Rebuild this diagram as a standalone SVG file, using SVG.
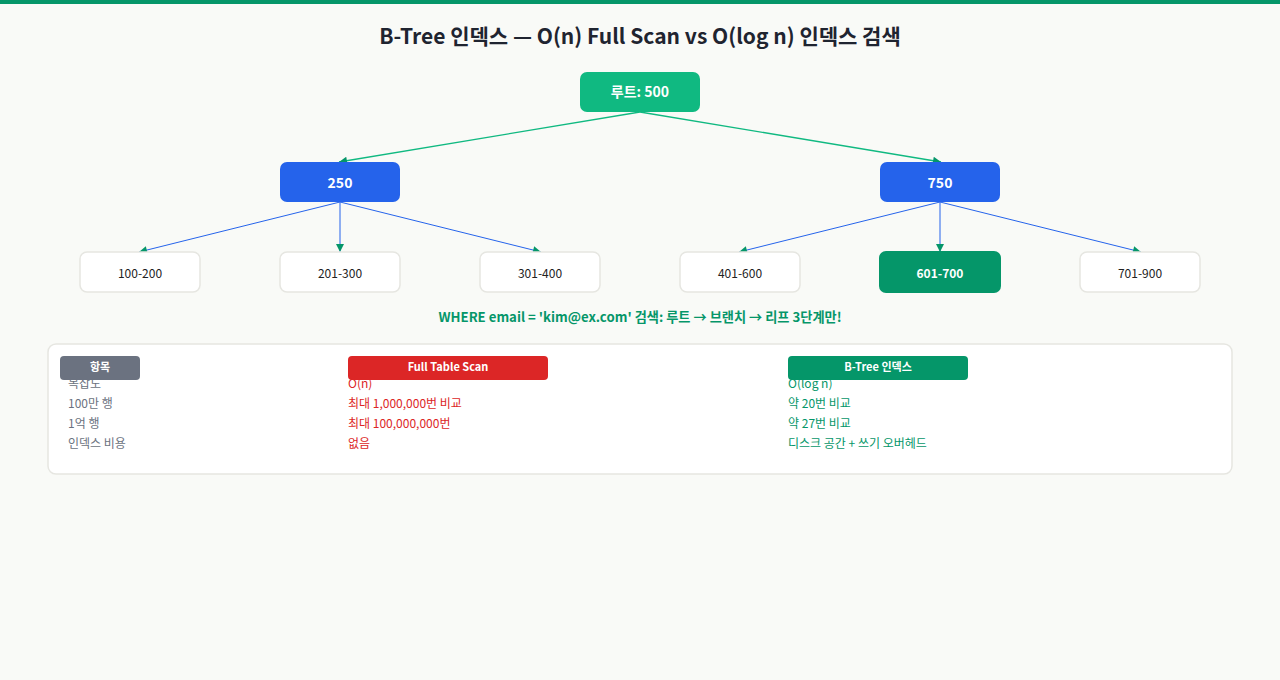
<svg xmlns="http://www.w3.org/2000/svg" width="1280" height="680" viewBox="0 0 1280 680">
<defs>
<style>
text{font-family:"Noto Sans CJK KR","Noto Sans",sans-serif}
.title{font-size:21px;font-weight:700;fill:#1f2430}
.nl{font-size:14px;font-weight:700;fill:#fff}
.leaf{fill:#fff;stroke:#e6e6e1;stroke-width:1.5}
.lt{font-size:12px;fill:#222}
.e1{stroke:#10b981;stroke-width:1.3;fill:none}
.e2{stroke:#2563eb;stroke-width:1;fill:none}
.hd{font-size:11px;font-weight:700;fill:#fff}
.c1{font-size:12px;fill:#6b7280}
.c2{font-size:12px;fill:#dc2626}
.c3{font-size:12px;fill:#059669}
</style>
<marker id="ah" viewBox="0 0 10 10" refX="10" refY="5" markerWidth="12" markerHeight="8" markerUnits="userSpaceOnUse" orient="auto">
<path d="M0,0 L10,5 L0,10 z" fill="#059669"/>
</marker>
</defs>
<rect width="1280" height="680" fill="#f9faf7"/>
<rect width="1280" height="4" fill="#059669"/>
<text class="title" x="640" y="44" text-anchor="middle">B-Tree 인덱스 — O(n) Full Scan vs O(log n) 인덱스 검색</text>
<g id="connectors">
<line class="e1" x1="640" y1="112" x2="339" y2="162" marker-end="url(#ah)"/>
<line class="e1" x1="640" y1="112" x2="941" y2="162" marker-end="url(#ah)"/>
<line class="e2" x1="340" y1="202" x2="139" y2="252" marker-end="url(#ah)"/>
<line class="e2" x1="340" y1="202" x2="340" y2="252" marker-end="url(#ah)"/>
<line class="e2" x1="340" y1="202" x2="541" y2="252" marker-end="url(#ah)"/>
<line class="e2" x1="940" y1="202" x2="739" y2="252" marker-end="url(#ah)"/>
<line class="e2" x1="940" y1="202" x2="940" y2="252" marker-end="url(#ah)"/>
<line class="e2" x1="940" y1="202" x2="1141" y2="252" marker-end="url(#ah)"/>
</g>
<g id="root"><rect x="580" y="72" width="120" height="40" rx="7" fill="#10b981"/><text class="nl" x="640" y="97" text-anchor="middle">루트: 500</text></g>
<g id="b250"><rect x="280" y="162" width="120" height="40" rx="7" fill="#2563eb"/><text class="nl" x="340" y="188" text-anchor="middle">250</text></g>
<g id="b750"><rect x="880" y="162" width="120" height="40" rx="7" fill="#2563eb"/><text class="nl" x="940" y="188" text-anchor="middle">750</text></g>
<g id="l1"><rect class="leaf" x="80" y="252" width="120" height="40" rx="7"/><text class="lt" x="140" y="278" text-anchor="middle">100-200</text></g>
<g id="l2"><rect class="leaf" x="280" y="252" width="120" height="40" rx="7"/><text class="lt" x="340" y="278" text-anchor="middle">201-300</text></g>
<g id="l3"><rect class="leaf" x="480" y="252" width="120" height="40" rx="7"/><text class="lt" x="540" y="278" text-anchor="middle">301-400</text></g>
<g id="l4"><rect class="leaf" x="680" y="252" width="120" height="40" rx="7"/><text class="lt" x="740" y="278" text-anchor="middle">401-600</text></g>
<g id="l5"><rect x="879" y="251" width="122" height="42" rx="7" fill="#059669"/><text class="lt" x="940" y="278" text-anchor="middle" style="fill:#fff;font-weight:700">601-700</text></g>
<g id="l6"><rect class="leaf" x="1080" y="252" width="120" height="40" rx="7"/><text class="lt" x="1140" y="278" text-anchor="middle">701-900</text></g>
<text x="640" y="322" text-anchor="middle" style="font-size:13.2px;font-weight:700;fill:#059669">WHERE email = 'kim@ex.com' 검색: 루트 → 브랜치 → 리프 3단계만!</text>
<g id="table">
<rect x="48" y="344" width="1184" height="130" rx="8" fill="#fff" stroke="#e6e6e1" stroke-width="1.5"/>
<text class="c1" x="68" y="388">복잡도</text>
<text class="c2" x="348" y="388">O(n)</text>
<text class="c3" x="788" y="388">O(log n)</text>
<text class="c1" x="68" y="408">100만 행</text>
<text class="c2" x="348" y="408">최대 1,000,000번 비교</text>
<text class="c3" x="788" y="408">약 20번 비교</text>
<text class="c1" x="68" y="428">1억 행</text>
<text class="c2" x="348" y="428">최대 100,000,000번</text>
<text class="c3" x="788" y="428">약 27번 비교</text>
<text class="c1" x="68" y="448">인덱스 비용</text>
<text class="c2" x="348" y="448">없음</text>
<text class="c3" x="788" y="448">디스크 공간 + 쓰기 오버헤드</text>
<rect x="60" y="356" width="80" height="24" rx="4" fill="#6b7280"/>
<text class="hd" x="100" y="371" text-anchor="middle">항목</text>
<rect x="348" y="356" width="200" height="24" rx="4" fill="#dc2626"/>
<text class="hd" x="448" y="371" text-anchor="middle">Full Table Scan</text>
<rect x="788" y="356" width="180" height="24" rx="4" fill="#059669"/>
<text class="hd" x="878" y="371" text-anchor="middle">B-Tree 인덱스</text>
</g>
</svg>
